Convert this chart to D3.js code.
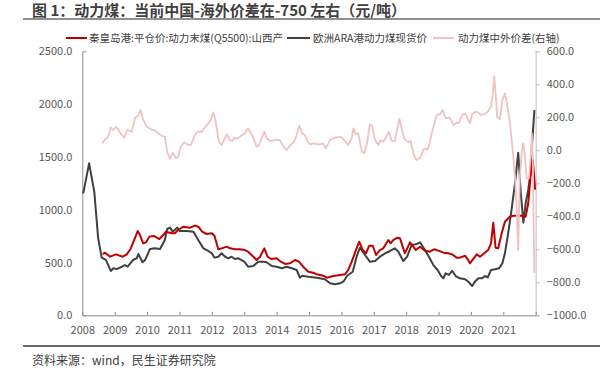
<!DOCTYPE html>
<html><head><meta charset="utf-8">
<script src="https://cdn.jsdelivr.net/npm/d3@7"></script>
<style>
body{margin:0;background:#fff;}
svg{display:block;font-family:"Noto Sans CJK SC","Noto Sans",sans-serif;}
</style></head>
<body><svg id="c" width="600" height="377"></svg>
<script>
// ---- data (decimal year, value) ----
const titleText = "图 1：动力煤：当前中国-海外价差在-750 左右（元/吨）";
const sourceText = "资料来源：wind，民生证券研究院";
const seriesNames = ["秦皇岛港:平仓价:动力末煤(Q5500):山西产", "欧洲ARA港动力煤现货价", "动力煤中外价差(右轴)"];
const yearTicks = [2008,2009,2010,2011,2012,2013,2014,2015,2016,2017,2018,2019,2020,2021,2022];
const yearLabels = ["2008","2009","2010","2011","2012","2013","2014","2015","2016","2017","2018","2019","2020","2021",""];
const leftTicks = [0,500,1000,1500,2000,2500];
const rightTicks = [-1000,-800,-600,-400,-200,0,200,400,600];

const qhdPrice = [
[2008.63,580],[2008.70,593],[2008.86,555],[2009.04,577],[2009.25,555],[2009.37,577],[2009.49,628],[2009.60,713],
[2009.71,798],[2009.78,760],[2009.88,682],[2009.97,691],[2010.07,745],[2010.21,751],[2010.38,722],[2010.50,760],
[2010.58,792],[2010.76,777],[2010.86,777],[2010.96,808],[2011.12,839],[2011.33,830],[2011.48,849],[2011.58,839],
[2011.70,792],[2011.84,770],[2012.00,777],[2012.08,754],[2012.20,625],[2012.30,634],[2012.46,650],[2012.56,634],
[2012.71,625],[2012.87,625],[2013.02,618],[2013.12,602],[2013.25,564],[2013.38,524],[2013.49,555],[2013.62,634],
[2013.72,555],[2013.83,533],[2014.00,540],[2014.13,508],[2014.26,486],[2014.41,492],[2014.57,524],[2014.69,508],
[2014.82,460],[2014.98,413],[2015.13,403],[2015.24,388],[2015.44,375],[2015.55,356],[2015.75,372],[2015.96,382],
[2016.11,388],[2016.21,429],[2016.32,508],[2016.45,618],[2016.55,697],[2016.66,618],[2016.76,587],[2016.86,659],
[2016.97,659],[2017.07,571],[2017.19,618],[2017.29,634],[2017.45,713],[2017.52,682],[2017.60,713],[2017.73,735],
[2017.81,729],[2017.96,587],[2018.12,691],[2018.22,650],[2018.30,618],[2018.43,650],[2018.58,612],[2018.73,602],
[2018.87,625],[2018.99,612],[2019.15,593],[2019.30,587],[2019.42,577],[2019.56,546],[2019.66,546],[2019.82,564],
[2019.90,530],[2019.97,492],[2020.05,524],[2020.18,577],[2020.28,555],[2020.41,587],[2020.53,618],[2020.62,682],
[2020.69,877],[2020.76,640],[2020.84,634],[2020.95,777],[2021.05,886],[2021.20,934],[2021.31,943],[2021.57,943],
[2021.69,934],[2021.77,1061],[2021.85,1345],[2021.91,1471],[2021.96,1281],[2021.98,1190]
];

const araPrice = [
[2008.03,1155],[2008.21,1439],[2008.37,1171],[2008.49,729],[2008.60,546],[2008.73,524],[2008.88,420],[2008.96,445],
[2009.06,438],[2009.22,460],[2009.32,476],[2009.40,460],[2009.57,524],[2009.68,540],[2009.73,580],[2009.86,502],
[2009.94,524],[2010.09,628],[2010.24,634],[2010.40,628],[2010.55,713],[2010.62,817],[2010.71,830],[2010.79,792],
[2010.93,830],[2011.02,798],[2011.22,798],[2011.43,792],[2011.58,713],[2011.74,634],[2011.89,609],[2012.00,587],
[2012.08,546],[2012.20,555],[2012.30,587],[2012.41,555],[2012.51,540],[2012.61,555],[2012.71,533],[2012.82,540],
[2013.00,508],[2013.12,460],[2013.28,467],[2013.43,508],[2013.59,508],[2013.69,502],[2013.85,467],[2014.00,460],
[2014.16,445],[2014.31,460],[2014.47,445],[2014.62,429],[2014.72,356],[2014.79,375],[2014.98,366],[2015.24,356],
[2015.49,341],[2015.65,303],[2015.80,294],[2015.96,303],[2016.06,318],[2016.18,375],[2016.35,413],[2016.47,555],
[2016.57,640],[2016.73,571],[2016.88,508],[2017.04,514],[2017.19,555],[2017.35,587],[2017.50,609],[2017.65,634],
[2017.76,602],[2017.91,514],[2018.03,555],[2018.17,666],[2018.30,672],[2018.43,691],[2018.58,618],[2018.70,555],
[2018.84,476],[2018.97,429],[2019.08,372],[2019.15,350],[2019.22,398],[2019.32,382],[2019.42,422],[2019.53,372],
[2019.66,350],[2019.82,341],[2019.92,318],[2020.04,277],[2020.12,318],[2020.23,350],[2020.35,350],[2020.43,372],
[2020.52,360],[2020.62,429],[2020.74,436],[2020.87,445],[2020.97,492],[2021.05,587],[2021.15,777],[2021.26,1013],
[2021.36,1250],[2021.46,1540],[2021.54,1155],[2021.62,877],[2021.69,1061],[2021.77,1187],[2021.85,1376],[2021.89,1629],
[2021.96,1944]
];

const spread = [
[2008.62,42],[2008.70,68],[2008.77,73],[2008.88,137],[2008.96,123],[2009.04,143],[2009.16,109],[2009.29,77],
[2009.39,123],[2009.53,113],[2009.63,198],[2009.73,210],[2009.80,244],[2009.88,184],[2009.99,143],[2010.11,129],
[2010.21,123],[2010.35,103],[2010.45,89],[2010.55,82],[2010.62,-8],[2010.71,-53],[2010.79,-14],[2010.89,-48],
[2010.96,-39],[2011.05,26],[2011.15,48],[2011.24,36],[2011.35,32],[2011.48,93],[2011.55,113],[2011.69,113],
[2011.84,153],[2011.94,173],[2012.05,230],[2012.12,173],[2012.22,52],[2012.30,32],[2012.46,97],[2012.56,62],
[2012.63,56],[2012.69,77],[2012.77,68],[2012.87,82],[2013.02,103],[2013.12,133],[2013.23,97],[2013.31,62],
[2013.38,22],[2013.46,32],[2013.54,73],[2013.62,113],[2013.69,73],[2013.80,56],[2013.95,62],[2014.10,62],
[2014.21,22],[2014.31,2],[2014.41,28],[2014.55,56],[2014.62,93],[2014.70,149],[2014.79,103],[2014.88,89],
[2014.96,52],[2015.03,36],[2015.13,42],[2015.29,36],[2015.44,40],[2015.52,12],[2015.65,62],[2015.80,77],
[2015.96,82],[2016.06,68],[2016.21,32],[2016.32,73],[2016.37,133],[2016.45,97],[2016.52,103],[2016.63,-8],
[2016.71,-18],[2016.80,52],[2016.88,158],[2016.95,149],[2017.04,62],[2017.14,32],[2017.21,62],[2017.29,52],
[2017.38,77],[2017.47,113],[2017.55,56],[2017.65,56],[2017.73,133],[2017.79,190],[2017.86,133],[2017.94,68],
[2018.07,48],[2018.14,56],[2018.22,-18],[2018.32,-59],[2018.43,-45],[2018.53,2],[2018.58,12],[2018.66,2],
[2018.73,50],[2018.79,103],[2018.94,214],[2019.04,218],[2019.13,244],[2019.22,194],[2019.32,200],[2019.38,188],
[2019.46,153],[2019.56,167],[2019.63,167],[2019.73,214],[2019.82,224],[2019.90,194],[2019.97,164],[2020.04,220],
[2020.15,234],[2020.23,228],[2020.31,214],[2020.43,220],[2020.52,234],[2020.62,264],[2020.67,335],[2020.72,450],
[2020.77,325],[2020.81,204],[2020.90,188],[2020.97,305],[2021.05,345],[2021.13,264],[2021.20,173],[2021.28,22],
[2021.36,-160],[2021.41,-342],[2021.46,-604],[2021.51,-160],[2021.57,-8],[2021.62,42],[2021.67,-39],[2021.72,-170],
[2021.79,-170],[2021.85,-18],[2021.88,103],[2021.91,-59],[2021.94,-503],[2021.96,-745]
];

// ---- layout ----
const svg = d3.select("#c");
const X0 = 82.3, X1 = 535.7, YT = 51.3, YB = 315.3;
const x = d3.scaleLinear().domain([2008, 2022]).range([X0, X1]);
const yL = d3.scaleLinear().domain([0, 2500]).range([YB, YT]);
const yR = d3.scaleLinear().domain([-1000, 600]).range([YB, YT]);
const txt = "#404040", lab = "#595959";

// title & rules
svg.append("text").attr("x", 32).attr("y", 16).attr("font-size", 15).attr("font-weight", "bold")
  .attr("fill", "#3f3f3f").text(titleText);
svg.append("line").attr("x1", 23).attr("x2", 600).attr("y1", 19).attr("y2", 19)
  .attr("stroke", "#6b6b6b").attr("stroke-width", 1.6);
svg.append("line").attr("x1", 23).attr("x2", 600).attr("y1", 346).attr("y2", 346)
  .attr("stroke", "#6b6b6b").attr("stroke-width", 2);
svg.append("text").attr("x", 32).attr("y", 364.5).attr("font-size", 12).attr("fill", txt).text(sourceText);

// axes
const gL = svg.append("g").attr("transform", `translate(${X0},0)`)
  .call(d3.axisLeft(yL).tickValues(leftTicks).tickFormat(d3.format(".1f")).tickSizeInner(0).tickSizeOuter(-4).tickPadding(10));
gL.select(".domain").attr("stroke", "#8c8c8c");
const gR = svg.append("g").attr("transform", `translate(${X1},0)`)
  .call(d3.axisRight(yR).tickValues(rightTicks).tickFormat(d3.format(".1f")).tickSizeInner(4).tickSizeOuter(4).tickPadding(7));
gR.select(".domain").attr("stroke", "#d4d4d4").attr("stroke-width", 1.5);
gR.selectAll(".tick line").attr("stroke", "#bfbfbf");
const gB = svg.append("g").attr("transform", `translate(0,${YB})`)
  .call(d3.axisBottom(x).tickValues(yearTicks).tickFormat((d, i) => yearLabels[i]).tickSizeInner(-3.5).tickSizeOuter(0).tickPadding(10.5));
gB.select(".domain").attr("stroke", "#8c8c8c");
gB.selectAll(".tick line").attr("stroke", "#8c8c8c");
[gL, gR, gB].forEach(g => {
  g.selectAll("text").attr("font-size", 11).attr("fill", lab).attr("font-family", '"Noto Sans CJK SC","Noto Sans",sans-serif');
});

// lines
const lineL = d3.line().x(d => x(d[0])).y(d => yL(d[1]));
const lineR = d3.line().x(d => x(d[0])).y(d => yR(d[1]));
svg.append("path").datum(araPrice).attr("d", lineL).attr("fill", "none").attr("stroke", "#404040").attr("stroke-width", 2).attr("stroke-linejoin", "round");
svg.append("path").datum(qhdPrice).attr("d", lineL).attr("fill", "none").attr("stroke", "#c00000").attr("stroke-width", 2).attr("stroke-linejoin", "round");
svg.append("path").datum(spread).attr("d", lineR).attr("fill", "none").attr("stroke", "#f0c2c2").attr("stroke-width", 1.8).attr("stroke-linejoin", "round");

// legend
const legend = [
  {name: seriesNames[0], color: "#c00000", x1: 66, x2: 87, tx: 89},
  {name: seriesNames[1], color: "#404040", x1: 287, x2: 310, tx: 313},
  {name: seriesNames[2], color: "#f0c2c2", x1: 433, x2: 454, tx: 458}
];
const lg = svg.append("g");
legend.forEach(l => {
  lg.append("line").attr("x1", l.x1).attr("x2", l.x2).attr("y1", 38).attr("y2", 38).attr("stroke", l.color).attr("stroke-width", 2);
  lg.append("text").attr("x", l.tx).attr("y", 38).attr("dy", "0.35em").attr("font-size", 10.5).attr("fill", txt).text(l.name);
});
</script></body></html>
